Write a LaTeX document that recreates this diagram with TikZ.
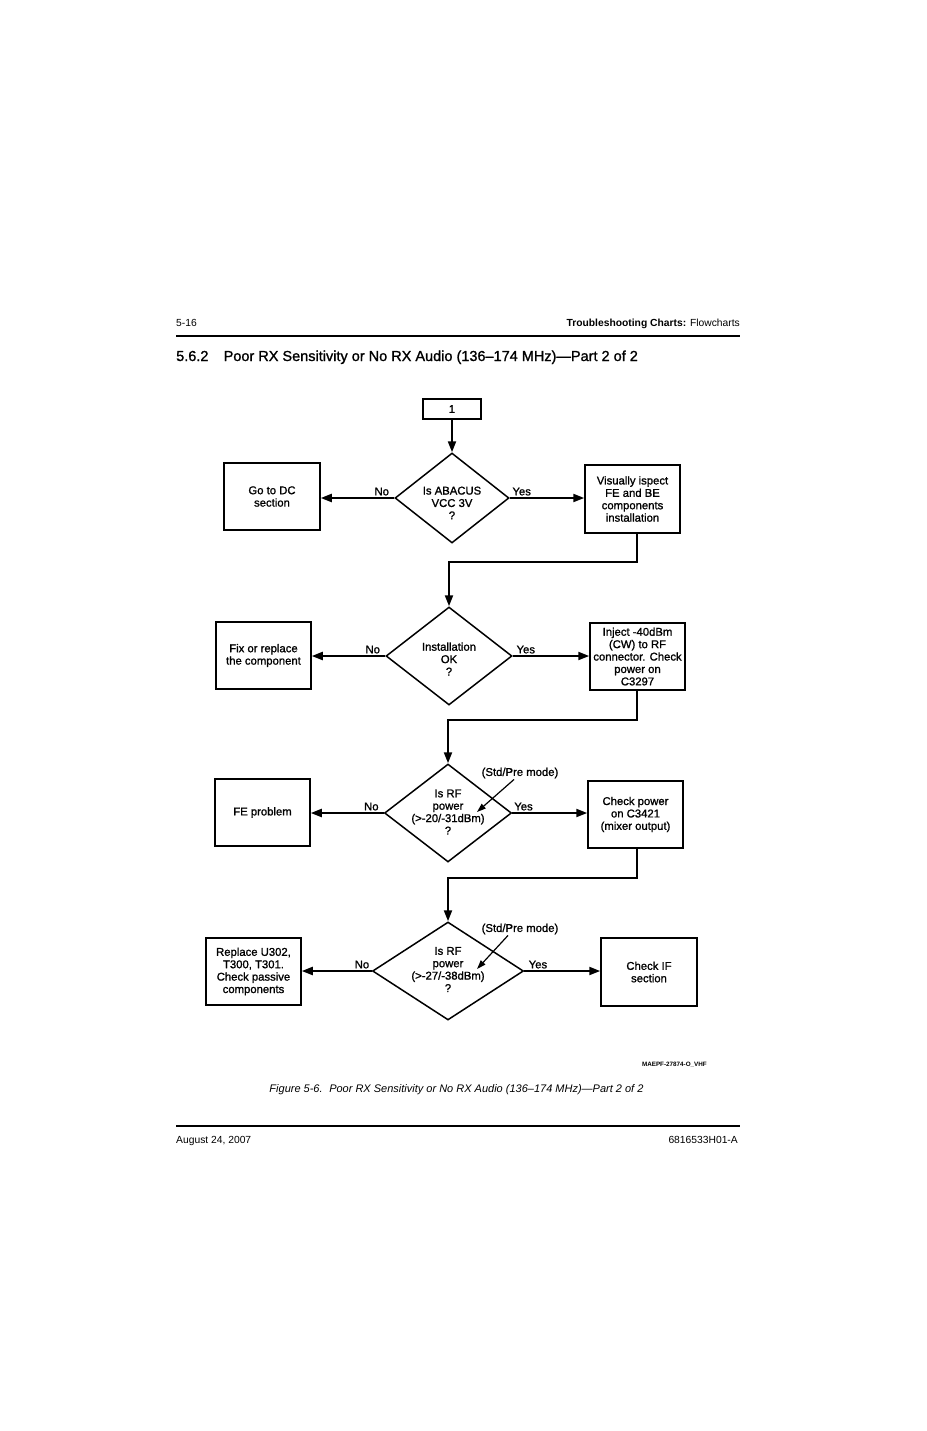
\documentclass[tikz,border=0pt]{standalone}
\usepackage{fontspec}
\setmainfont{Liberation Sans}
\newfontfamily\heavyfont[FakeBold=1.2]{Liberation Sans}
\usetikzlibrary{arrows.meta,shapes.geometric}
\begin{document}
\begin{tikzpicture}[x=1pt,y=-1pt,
  box/.style={draw,line width=1.5pt,inner sep=0pt,align=center,font=\heavyfont\fontsize{11.3}{12.4}\selectfont},
  dia/.style={draw,diamond,line width=1.5pt,inner sep=0pt},
  dtxt/.style={inner sep=0pt,align=center,font=\heavyfont\fontsize{11.3}{12.4}\selectfont},
  lbl/.style={inner sep=1.5pt,font=\heavyfont\fontsize{11.3}{12.4}\selectfont},
  arr/.style={line width=2.1pt,-{Triangle[length=11pt,width=8pt]}},
  thinarr/.style={line width=1.2pt,-{Triangle[length=9pt,width=6pt]}}]
\useasboundingbox (0,0) rectangle (926,1431);
% header
\node[anchor=base west,inner sep=0pt,font=\fontsize{10.3}{12}\selectfont] (pg) at (176,326) {5-16};
\node[anchor=base east,inner sep=0pt,font=\fontsize{10.3}{12}\selectfont] (hd) at (740,326) {\textbf{Troubleshooting Charts:} Flowcharts};
\draw[line width=1.8pt] (176,336) -- (740,336);
\node[anchor=base west,inner sep=0pt,font=\heavyfont\fontsize{14.5}{16}\selectfont] (title) at (176,361) {5.6.2\hspace{1.05em}Poor RX Sensitivity or No RX Audio (136–174 MHz)—Part 2 of 2};
% start
\node[box,minimum width=58,minimum height=20] (one) at (452,409) {1};
% row 1
\node[dia,minimum width=114,minimum height=90] (d1) at (452,498) {};
\node[dtxt] (t1) at (452,503) {Is ABACUS\\VCC 3V\\?};
\node[box,minimum width=96,minimum height=67] (dc) at (272,496.5) {Go to DC\\section};
\node[box,minimum width=95,minimum height=68] (vis) at (632.5,499) {Visually ispect\\FE and BE\\components\\installation};
% row 2
\node[dia,minimum width=126,minimum height=98] (d2) at (449,656) {};
\node[dtxt] (t2) at (449,659) {Installation\\OK\\?};
\node[box,minimum width=95,minimum height=67] (fix) at (263.5,655.5) {Fix or replace\\the component};
\node[box,minimum width=95,minimum height=67] (inj) at (637.5,656.5) {Inject -40dBm\\(CW) to RF\\connector. Check\\power on\\C3297};
% row 3
\node[dia,minimum width=127,minimum height=98] (d3) at (448,813) {};
\node[dtxt] (t3) at (448,812) {Is RF\\power\\(>-20/-31dBm)\\?};
\node[box,minimum width=95,minimum height=67] (fe) at (262.5,812.5) {FE problem};
\node[box,minimum width=95,minimum height=67] (chk) at (635.5,814.5) {Check power\\on C3421\\(mixer output)};
\node[lbl,inner sep=0pt] (sp1) at (520,773) {(Std/Pre mode)};
\coordinate (a1) at (477,812);
% row 4
\node[dia,minimum width=151,minimum height=98] (d4) at (448,971) {};
\node[dtxt] (t4) at (448,969.5) {Is RF\\power\\(>-27/-38dBm)\\?};
\node[box,minimum width=95,minimum height=67] (rep) at (253.5,971.5) {Replace U302,\\T300, T301.\\Check passive\\components};
\node[box,minimum width=96,minimum height=68] (cif) at (649,972) {Check IF\\section};
\node[lbl,inner sep=0pt] (sp2) at (520,929) {(Std/Pre mode)};
\coordinate (a2) at (477,969);
% connectors
\draw[arr] (one) -- (d1.north);
\draw[arr] (d1.west) -- (d1.west -| dc.east) node[lbl,pos=0.17,above] {No};
\draw[arr] (d1.east) -- (d1.east -| vis.west) node[lbl,pos=0.16,above] {Yes};
\draw[arr] ([xshift=4.5pt]vis.south) -- ++(0,28) -| (d2.north);
\draw[arr] (d2.west) -- (d2.west -| fix.east) node[lbl,pos=0.17,above] {No};
\draw[arr] (d2.east) -- (d2.east -| inj.west) node[lbl,pos=0.17,above] {Yes};
\draw[arr] ([xshift=-0.5pt]inj.south) -- ++(0,29) -| (d3.north);
\draw[arr] (d3.west) -- (d3.west -| fe.east) node[lbl,pos=0.17,above] {No};
\draw[arr] (d3.east) -- (d3.east -| chk.west) node[lbl,pos=0.15,above] {Yes};
\draw[arr] ([xshift=1.5pt]chk.south) -- ++(0,29) -| (d4.north);
\draw[arr] (d4.west) -- (d4.west -| rep.east) node[lbl,pos=0.14,above] {No};
\draw[arr] (d4.east) -- (d4.east -| cif.west) node[lbl,pos=0.18,above] {Yes};
\draw[thinarr] ([xshift=-6pt,yshift=-1pt]sp1.south) -- (a1);
\draw[thinarr] ([xshift=-12pt,yshift=-1pt]sp2.south) -- (a2);
% footer
\node[anchor=base east,inner sep=0pt,font=\bfseries\fontsize{6.3}{8}\selectfont] (code) at (707,1066) {MAEPF-27874-O\_VHF};
\node[anchor=base,inner sep=0pt,font=\itshape\fontsize{11}{13}\selectfont] (cap) at (456.5,1092) {Figure 5-6.\hspace{0.6em}Poor RX Sensitivity or No RX Audio (136–174 MHz)—Part 2 of 2};
\draw[line width=1.8pt] (176,1126) -- (740,1126);
\node[anchor=base west,inner sep=0pt,font=\fontsize{10.3}{12}\selectfont] (date) at (176,1143) {August 24, 2007};
\node[anchor=base east,inner sep=0pt,font=\fontsize{10.3}{12}\selectfont] (doc) at (738,1143) {6816533H01-A};
\end{tikzpicture}
\end{document}
